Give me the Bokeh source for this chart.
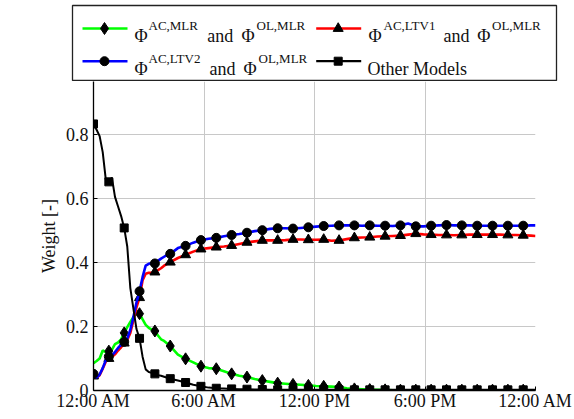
from bokeh.plotting import figure
from bokeh.models import Range1d, FixedTicker
from bokeh.layouts import column
from bokeh.embed import file_html
from bokeh.resources import INLINE
from bokeh.core.properties import value

# ---------------- data (minutes since midnight) ----------------
times = [0, 10, 20, 30, 40, 50, 60, 70, 80, 90, 100, 110, 120, 130, 140, 150,
         160, 170, 180, 190, 200, 210, 220, 230, 240, 250,
         275, 300, 325, 350, 375, 400, 425, 450, 475, 500, 525, 550, 575, 600,
         625, 650, 675, 700, 725, 750, 775, 800, 825, 850, 875, 900, 925, 950,
         975, 1000, 1025, 1050, 1075, 1100, 1125, 1150, 1175, 1200, 1225, 1250,
         1275, 1300, 1325, 1350, 1375, 1400, 1425, 1440]

w_mlr = [0.085, 0.092, 0.100, 0.125, 0.120, 0.123, 0.128, 0.145, 0.150, 0.160,
         0.180, 0.198, 0.214, 0.229, 0.245, 0.240, 0.222, 0.205, 0.196, 0.190,
         0.186, 0.172, 0.160, 0.155, 0.147, 0.139,
         0.112, 0.099, 0.088, 0.076, 0.070, 0.068, 0.060, 0.052, 0.046, 0.042,
         0.036, 0.031, 0.027, 0.023, 0.021, 0.019, 0.018, 0.016, 0.014, 0.013,
         0.012, 0.011, 0.007, 0.005, 0.004, 0.003, 0.002, 0.002, 0.001, 0.001,
         0.001, 0.001, 0.001, 0.001, 0.001, 0.001, 0.001, 0.001, 0.001, 0.001,
         0.001, 0.001, 0.001, 0.001, 0.001, 0.001, 0.001, 0.001]

w_ltv1 = [0.045, 0.040, 0.048, 0.068, 0.090, 0.100, 0.105, 0.113, 0.125, 0.135,
          0.148, 0.158, 0.180, 0.220, 0.260, 0.290, 0.345, 0.365, 0.368, 0.368,
          0.370, 0.376, 0.382, 0.390, 0.396, 0.401,
          0.414, 0.424, 0.434, 0.442, 0.445, 0.448, 0.450, 0.453, 0.458, 0.463,
          0.466, 0.469, 0.469, 0.469, 0.470, 0.472, 0.472, 0.471, 0.471, 0.472,
          0.468, 0.469, 0.473, 0.477, 0.478, 0.479, 0.481, 0.482, 0.483, 0.484,
          0.487, 0.490, 0.488, 0.487, 0.486, 0.486, 0.485, 0.486, 0.487, 0.487,
          0.487, 0.487, 0.487, 0.486, 0.486, 0.485, 0.484, 0.483]

w_ltv2 = [0.052, 0.040, 0.050, 0.070, 0.095, 0.106, 0.110, 0.120, 0.133, 0.143,
          0.152, 0.162, 0.190, 0.230, 0.275, 0.310, 0.355, 0.390, 0.396, 0.398,
          0.397, 0.405, 0.412, 0.418, 0.424, 0.427,
          0.445, 0.452, 0.462, 0.470, 0.474, 0.477, 0.482, 0.486, 0.489, 0.493,
          0.498, 0.501, 0.505, 0.507, 0.507, 0.506, 0.508, 0.510, 0.512, 0.514,
          0.515, 0.516, 0.516, 0.516, 0.515, 0.516, 0.515, 0.515, 0.514, 0.516,
          0.522, 0.513, 0.513, 0.515, 0.516, 0.517, 0.516, 0.516, 0.516, 0.515,
          0.515, 0.515, 0.515, 0.515, 0.515, 0.515, 0.516, 0.516]

w_other = [0.833, 0.815, 0.795, 0.745, 0.660, 0.652, 0.665, 0.605, 0.575, 0.545,
           0.508, 0.450, 0.320, 0.256, 0.192, 0.163, 0.105, 0.066, 0.058, 0.055,
           0.052, 0.048, 0.046, 0.043, 0.040, 0.037,
           0.031, 0.025, 0.018, 0.013, 0.009, 0.007, 0.006, 0.005, 0.004, 0.004,
           0.003, 0.003, 0.002, 0.002, 0.002, 0.002, 0.002, 0.002, 0.002, 0.002,
           0.002, 0.002, 0.002, 0.002, 0.002, 0.002, 0.002, 0.002, 0.002, 0.002,
           0.002, 0.002, 0.002, 0.002, 0.002, 0.002, 0.002, 0.002, 0.002, 0.002,
           0.002, 0.002, 0.002, 0.002, 0.002, 0.002, 0.002, 0.002]

x_tick_pos = [0, 360, 720, 1080, 1440]
x_tick_labels = ["12:00 AM", "6:00 AM", "12:00 PM", "6:00 PM", "12:00 AM"]
y_tick_pos = [0, 0.2, 0.4, 0.6, 0.8]
y_tick_labels = ["0", "0.2", "0.4", "0.6", "0.8"]
y_label = "Weight [-]"

FONT = "Liberation Serif"
GREEN, RED, BLUE, BLACK = "#00ff00", "#ff0000", "#0000ff", "#000000"
TXT = "#111111"

# marker positions every 50 minutes
mk = [i for i, t in enumerate(times) if t % 50 == 0]
mk_green = [i for i in mk if times[i] > 0]

def sub(vals, idx):
    return [vals[i] for i in idx]

# ---------------- main plot ----------------
p = figure(width=574, height=338, x_range=Range1d(0, 1440), y_range=Range1d(0, 0.9656),
           output_backend="svg", toolbar_location=None,
           min_border_left=93, min_border_right=39, min_border_top=0, min_border_bottom=29)
p.frame_align = False
p.outline_line_color = None
p.background_fill_color = "white"
p.border_fill_color = "white"

p.xaxis.ticker = FixedTicker(ticks=x_tick_pos)
p.xaxis.major_label_overrides = {t: l for t, l in zip(x_tick_pos, x_tick_labels)}
p.yaxis.ticker = FixedTicker(ticks=y_tick_pos)
p.yaxis.major_label_overrides = {t: l for t, l in zip(y_tick_pos, y_tick_labels)}
p.xgrid.ticker = FixedTicker(ticks=x_tick_pos)
p.ygrid.ticker = FixedTicker(ticks=y_tick_pos)
p.grid.grid_line_color = "#c8c8c8"
p.grid.grid_line_width = 1

for ax in (p.xaxis[0], p.yaxis[0]):
    ax.axis_line_color = "black"
    ax.axis_line_width = 1.3
    ax.major_tick_in = 4
    ax.major_tick_out = 0
    ax.major_tick_line_color = "black"
    ax.minor_tick_line_color = None
    ax.major_label_text_font = FONT
    ax.major_label_text_font_size = "18px"
    ax.major_label_text_color = TXT
p.xaxis.major_label_standoff = 0
p.yaxis.major_label_standoff = 5
p.yaxis.axis_label = y_label
p.yaxis.axis_label_text_font = FONT
p.yaxis.axis_label_text_font_size = "18px"
p.yaxis.axis_label_text_font_style = "normal"
p.yaxis.axis_label_text_color = TXT
p.yaxis.axis_label_standoff = 4

p.line(times, w_mlr, color=GREEN, line_width=2.6)
p.scatter(sub(times, mk_green), sub(w_mlr, mk_green), marker="diamond", size=12, color=BLACK)
p.line(times, w_ltv1, color=RED, line_width=2.6)
p.scatter(sub(times, mk), sub(w_ltv1, mk), marker="triangle", size=10, color=BLACK)
p.line(times, w_ltv2, color=BLUE, line_width=2.6)
p.scatter(sub(times, mk), sub(w_ltv2, mk), marker="circle", size=9, color=BLACK)
p.line(times, w_other, color=BLACK, line_width=2.0)
p.scatter(sub(times, mk), sub(w_other, mk), marker="square", size=8, color=BLACK)

# ---------------- legend (separate strip above the plot) ----------------
leg = figure(width=574, height=81, x_range=Range1d(0, 484), y_range=Range1d(76, 0),
             output_backend="svg", toolbar_location=None, min_border=0,
             min_border_left=72, min_border_right=18, min_border_top=5, min_border_bottom=0,
             x_axis_location=None, y_axis_location=None)
leg.frame_align = False
leg.grid.visible = False
leg.outline_line_color = "#222222"
leg.outline_line_width = 1.3
leg.background_fill_color = "white"
leg.border_fill_color = "white"

row_y = [23, 55.7]
col_x = [10, 243.7]
samples = [(GREEN, "diamond", 12, 0, 0), (RED, "triangle", 10, 1, 0),
           (BLUE, "circle", 9, 0, 1), (BLACK, "square", 8, 1, 1)]
for colr, mkr, sz, c, r in samples:
    leg.segment(x0=[col_x[c]], y0=[row_y[r]], x1=[col_x[c] + 45], y1=[row_y[r]],
                color=colr, line_width=2.6 if colr != BLACK else 2.2)
    leg.scatter([col_x[c] + 22], [row_y[r]], marker=mkr, size=sz, color=BLACK)

# text pieces: (x, row, text, superscript?)
pieces = [
    (62, 0, "Φ", False), (76, 0, "AC,MLR", True), (134.7, 0, "and", False),
    (169, 0, "Φ", False), (184, 0, "OL,MLR", True),
    (296, 0, "Φ", False), (311, 0, "AC,LTV1", True), (371, 0, "and", False),
    (404.7, 0, "Φ", False), (419.5, 0, "OL,MLR", True),
    (62, 1, "Φ", False), (76, 1, "AC,LTV2", True), (137, 1, "and", False),
    (171, 1, "Φ", False), (186, 1, "OL,MLR", True),
    (295, 1, "Other Models", False),
]
base_y = [30, 63.3]
for x, r, txt, sup in pieces:
    leg.text(x=[x], y=[base_y[r] - (10 if sup else 0)], text=[txt],
             text_font=value(FONT), text_font_size="13px" if sup else "18px",
             text_align="left", text_baseline="alphabetic", text_color=TXT)

layout = column(leg, p)
open("out.html", "w").write(file_html(layout, INLINE))
